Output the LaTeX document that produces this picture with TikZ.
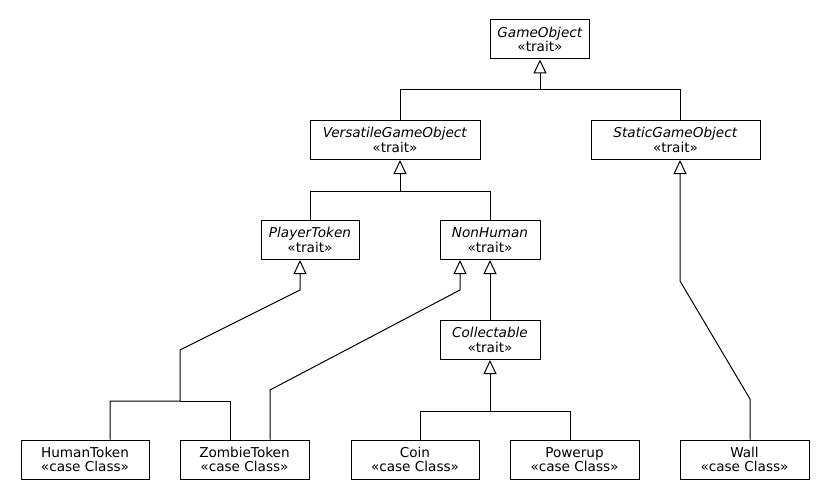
\documentclass[tikz,border=0pt]{standalone}
\usepackage{fontspec}
\setmainfont{DejaVu Sans}
\usetikzlibrary{arrows.meta, calc}

\tikzset{
  cls/.style={draw, line width=1pt, minimum width=#1, minimum height=39pt,
    inner sep=0pt, align=center, font=\fontsize{13.6}{14.6}\selectfont,
    execute at begin node=\rule{0pt}{15pt}},
  inh/.style={line width=1pt, -{Triangle[open, length=14pt, width=13pt]}},
  seg/.style={line width=1pt},
}

\begin{document}
\begin{tikzpicture}[x=1pt, y=-1pt]
                \useasboundingbox (0,0) rectangle (830,500);

                \node[cls=99pt]  (go)  at (540,39.5)   {\textit{GameObject}\\«trait»};
                \node[cls=170pt] (vgo) at (395,140)    {\textit{VersatileGameObject}\\«trait»};
                \node[cls=169pt] (sgo) at (675.5,140)  {\textit{StaticGameObject}\\«trait»};
                \node[cls=98pt]  (pt)  at (310,240)    {\textit{PlayerToken}\\«trait»};
                \node[cls=100pt] (nh)  at (490,240)    {\textit{NonHuman}\\«trait»};
                \node[cls=100pt] (col) at (490,340)    {\textit{Collectable}\\«trait»};

                \node[cls=128pt] (ht)   at (85,459.5)    {HumanToken\\«case Class»};
                \node[cls=129pt] (zt)   at (244.5,459.5) {ZombieToken\\«case Class»};
                \node[cls=128pt] (coin) at (415,459.5)   {Coin\\«case Class»};
                \node[cls=129pt] (pu)   at (574.5,459.5) {Powerup\\«case Class»};
                \node[cls=129pt] (wall) at (744.5,459.5) {Wall\\«case Class»};

                \coordinate (b1) at (540,90);
                \coordinate (b2) at (400,191);
                \coordinate (b3) at (180,401);
                \coordinate (b4) at (490,411);
                \coordinate (k1) at (180,350);
                \coordinate (k2) at (300,290);
                \coordinate (k3) at (270,390);
                \coordinate (k4) at (460,290);
                \coordinate (k5) at (750,399);
                \coordinate (k6) at (680,281);

                \draw[inh] ([xshift=5pt]vgo.north) |- (b1) -- (go.south);
                \draw[seg] ([xshift=4.5pt]sgo.north) |- (b1);

                \draw[inh] (pt.north) |- (b2) -- ([xshift=5pt]vgo.south);
                \draw[seg] (nh.north) |- (b2);

                \draw[inh] ([xshift=25pt]ht.north) |- (b3) -- (k1) -- (k2) -- ([xshift=-10pt]pt.south);
                \draw[seg] ([xshift=-14.5pt]zt.north) |- (b3);
                \draw[inh] ([xshift=25.5pt]zt.north) -- (k3) -- (k4) -- ([xshift=-30pt]nh.south);

                \draw[inh] (col.north) -- (nh.south);
                \draw[inh] ([xshift=5pt]coin.north) |- (b4) -- (col.south);
                \draw[seg] ([xshift=-4.5pt]pu.north) |- (b4);

                \draw[inh] ([xshift=5.5pt]wall.north) -- (k5) -- (k6) -- ([xshift=4.5pt]sgo.south);
            \end{tikzpicture}
\end{document}
